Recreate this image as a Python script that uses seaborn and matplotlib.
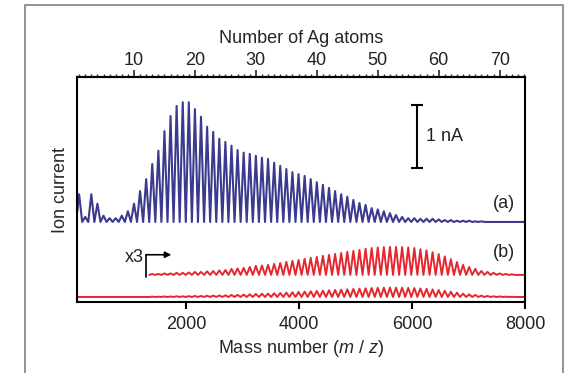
import pandas as pd
import matplotlib.pyplot as plt
import seaborn as sns
from matplotlib.ticker import MultipleLocator

AG_MASS = 107.87

# Peak heights (nA) of Ag_n clusters, n = 1..74
blue_n = list(range(1, 75))
blue_peak = [0.44, 0.08, 0.44, 0.29, 0.10, 0.06, 0.06, 0.10, 0.17, 0.29,
             0.49, 0.68, 0.92, 1.13, 1.44, 1.68, 1.84, 1.90, 1.90, 1.79,
             1.67, 1.51, 1.43, 1.32, 1.27, 1.21, 1.14, 1.10, 1.08, 1.05,
             1.02, 1.00, 0.94, 0.89, 0.84, 0.79, 0.76, 0.73, 0.68, 0.63,
             0.59, 0.54, 0.49, 0.44, 0.40, 0.35, 0.30, 0.27, 0.22, 0.20,
             0.17, 0.14, 0.11, 0.08, 0.06, 0.06, 0.05, 0.05, 0.05, 0.04,
             0.03, 0.03, 0.02, 0.02, 0.02, 0.01, 0.01, 0.0, 0.0, 0.0,
             0.0, 0.0, 0.0, 0.0]

# trace (b), unscaled, n = 13..74
red_n = list(range(13, 75))
red_peak = [0.005, 0.005, 0.008, 0.008, 0.011, 0.011, 0.013, 0.016, 0.016, 0.019,
            0.021, 0.024, 0.026, 0.032, 0.034, 0.037, 0.042, 0.048, 0.050, 0.053,
            0.058, 0.063, 0.069, 0.074, 0.079, 0.085, 0.090, 0.095, 0.101, 0.106,
            0.111, 0.116, 0.122, 0.127, 0.132, 0.138, 0.142, 0.145, 0.147, 0.148,
            0.148, 0.147, 0.145, 0.142, 0.136, 0.130, 0.120, 0.110, 0.098, 0.083,
            0.068, 0.053, 0.042, 0.032, 0.021, 0.016, 0.011, 0.008, 0.005, 0.003,
            0.0, 0.0]

BLUE_BASE = 1.27
X3_BASE = 0.43
X1_BASE = 0.08
XMAX = 8000


def trace(ns, peaks, base, scale=1.0, start=None):
    xs, ys = [], []
    if start is not None:
        xs.append(start)
        ys.append(base)
    for n, h in zip(ns, peaks):
        xs += [(n - 0.5) * AG_MASS, n * AG_MASS]
        ys += [base, base + scale * h]
    xs += [(ns[-1] + 0.5) * AG_MASS, XMAX]
    ys += [base, base]
    return pd.DataFrame({'mass': xs, 'current': ys})


sns.set_theme(style='white')
plt.rcParams['font.family'] = ['Liberation Sans', 'DejaVu Sans']
plt.rcParams['mathtext.fontset'] = 'custom'
plt.rcParams['mathtext.it'] = 'Liberation Sans:italic'
plt.rcParams['mathtext.rm'] = 'Liberation Sans'
plt.rcParams['text.color'] = '#222222'

fig = plt.figure(figsize=(5.69, 3.73), dpi=100)
ax = fig.add_axes([0.1353, 0.1903, 0.7874, 0.6033])

blue = '#3b3a8e'
red = '#e5262e'
sns.lineplot(data=trace(blue_n, blue_peak, BLUE_BASE, start=0), x='mass', y='current',
             ax=ax, color=blue, lw=1.5, estimator=None, sort=False)
sns.lineplot(data=trace(red_n, red_peak, X3_BASE, scale=3.0), x='mass', y='current',
             ax=ax, color=red, lw=1.4, estimator=None, sort=False)
sns.lineplot(data=trace(red_n, red_peak, X1_BASE, start=0), x='mass', y='current',
             ax=ax, color=red, lw=1.4, estimator=None, sort=False)

ax.set_xlim(70, XMAX)
ax.set_ylim(0, 3.57)
ax.set_yticks([])
ax.set_xticks([2000, 4000, 6000, 8000])
ax.tick_params(axis='x', direction='out', length=5, width=1.5, labelsize=13,
               pad=5, bottom=True, colors='black', labelcolor='#222222')
for s in ax.spines.values():
    s.set_visible(True)
    s.set_color('black')
    s.set_linewidth(1.5)

ax.set_xlabel('Mass number ($m$ / $z$)', fontsize=13, labelpad=4)
ax.set_ylabel('Ion current', fontsize=13, labelpad=6)

secax = ax.secondary_xaxis('top', functions=(lambda m: m / AG_MASS, lambda n: n * AG_MASS))
secax.set_xticks(range(10, 80, 10))
secax.xaxis.set_minor_locator(MultipleLocator(1))
secax.tick_params(axis='x', which='major', direction='out', length=5, width=1.2,
                  labelsize=13, pad=1, labelcolor='#222222')
secax.tick_params(axis='x', which='minor', direction='out', length=2.5, width=1)
secax.spines['top'].set_linewidth(1.5)
secax.set_xlabel('Number of Ag atoms', fontsize=13, labelpad=6)

# 1 nA scale bar
ax.plot([6080, 6080], [2.13, 3.13], color='black', lw=1.5, marker='_', ms=8, mew=1.5)
ax.text(6250, 2.63, '1 nA', fontsize=13, va='center', ha='left')

ax.text(7620, 1.57, '(a)', fontsize=13, va='center', ha='center')
ax.text(7620, 0.78, '(b)', fontsize=13, va='center', ha='center')

# x3 marker with bent arrow
ax.plot([1291, 1291], [0.40, 0.75], color='black', lw=1.2)
ax.annotate('', xy=(1740, 0.75), xytext=(1291, 0.75),
            arrowprops=dict(arrowstyle='-|>', lw=1.2, color='black',
                            shrinkA=0, shrinkB=0, mutation_scale=9))
ax.text(1250, 0.70, 'x3', fontsize=13, va='center', ha='right')

fig.add_artist(plt.Rectangle((0.044, -0.05), 0.945, 1.037, transform=fig.transFigure,
                             fill=False, ec='#808080', lw=1.2))

fig.savefig('out.png', dpi=100)
